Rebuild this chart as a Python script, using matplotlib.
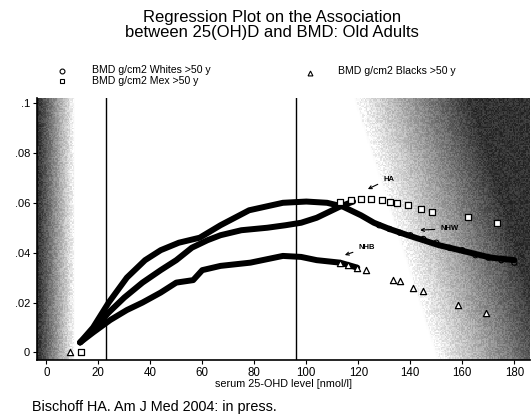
import numpy as np
import matplotlib
matplotlib.use("Agg")
import matplotlib.pyplot as plt

# --- data ---
whites_x = [13, 18, 24, 31, 38, 44, 51, 59, 67, 78, 91, 100, 108, 114, 121, 126, 132, 139, 145, 151, 159, 165, 171, 180]
whites_y = [0.004, 0.010, 0.020, 0.030, 0.037, 0.041, 0.044, 0.046, 0.051, 0.057, 0.060, 0.0605, 0.060, 0.0585, 0.055, 0.052, 0.0495, 0.047, 0.045, 0.043, 0.041, 0.0395, 0.038, 0.037]

mex_x = [13, 18, 24, 30, 37, 44, 50, 56, 62, 67, 75, 85, 92, 98, 104, 108, 113, 118]
mex_y = [0.004, 0.009, 0.016, 0.022, 0.028, 0.033, 0.037, 0.042, 0.045, 0.047, 0.049, 0.050, 0.051, 0.052, 0.054, 0.056, 0.0585, 0.0605]

blacks_x = [13, 18, 24.6, 31, 37, 44, 50, 56.5, 60, 67, 78.5, 91, 98, 104, 113, 119.6]
blacks_y = [0.004, 0.008, 0.013, 0.017, 0.020, 0.024, 0.028, 0.029, 0.033, 0.0347, 0.036, 0.0387, 0.0383, 0.037, 0.036, 0.034]

# scatter points (markers)
mex_pts_x = [13.5, 113, 117, 121, 125, 129, 132, 135, 139, 144, 148.5, 162, 173.5]
mex_pts_y = [0.0, 0.0605, 0.061, 0.0615, 0.0615, 0.061, 0.0605, 0.060, 0.059, 0.0577, 0.0565, 0.0544, 0.052]

blacks_pts_x = [9, 113, 116, 119.6, 123, 133.5, 136, 141, 145, 158.5, 169]
blacks_pts_y = [0.0, 0.036, 0.035, 0.034, 0.033, 0.029, 0.0285, 0.026, 0.0246, 0.019, 0.0157]

whites_pts_x = [128, 132, 136, 140, 145, 150, 155, 160, 165, 170, 175, 180]
whites_pts_y = [0.051, 0.0495, 0.048, 0.047, 0.0455, 0.044, 0.042, 0.041, 0.039, 0.038, 0.037, 0.036]

ref_lines = [23, 96]
xticks = [0, 20, 40, 60, 80, 100, 120, 140, 160, 180]
yticks = [0, 0.02, 0.04, 0.06, 0.08, 0.1]
ytick_labels = ["0", ".02", ".04", ".06", ".08", ".1"]

plt.rcParams['font.family'] = ['Liberation Sans', 'DejaVu Sans']

fig = plt.figure(figsize=(5.31, 4.19), dpi=100)
ax = fig.add_axes([0.070, 0.141, 0.928, 0.625])
xmin, xmax, ymin, ymax = -3.5, 186, -0.003, 0.102
ax.set_xlim(xmin, xmax)
ax.set_ylim(ymin, ymax)

# background halftone-like gradients
gx = np.linspace(xmin, xmax, 400)
gy = np.linspace(ymin, ymax, 200)
GX, GY = np.meshgrid(gx, gy)
left = np.clip((11 - GX) / 14.0, 0, 1) * 0.8
start = 150 - (GY - ymin) / (ymax - ymin) * 32
right = np.clip((GX - start) / 45.0, 0, 1) * 0.8
dark = np.maximum(left, right)
rng = np.random.default_rng(3)
noise = rng.random(dark.shape) * 0.15 - 0.075
img = np.clip(1 - dark + noise * (dark > 0.02), 0, 1)
ax.imshow(img, extent=[xmin, xmax, ymin, ymax], origin='lower', aspect='auto',
          cmap='gray', vmin=0, vmax=1, interpolation='nearest', zorder=0)

for xv in ref_lines:
    ax.axvline(xv, color='black', lw=1.0, zorder=1)

lw = 4.3
ax.plot(whites_x, whites_y, color='black', lw=lw, solid_capstyle='round', zorder=2)
ax.plot(mex_x, mex_y, color='black', lw=lw, solid_capstyle='round', zorder=2)
ax.plot(blacks_x, blacks_y, color='black', lw=lw, solid_capstyle='round', zorder=2)

ax.scatter(whites_pts_x, whites_pts_y, marker='o', s=14, facecolors='none', edgecolors='black', linewidths=0.8, zorder=3)
ax.scatter(mex_pts_x, mex_pts_y, marker='s', s=22, facecolors='white', edgecolors='black', linewidths=0.9, zorder=3)
ax.scatter(blacks_pts_x, blacks_pts_y, marker='^', s=20, facecolors='white', edgecolors='black', linewidths=0.9, zorder=3)

# annotations
kw = dict(fontsize=5.5, fontweight='bold', zorder=4)
ax.annotate("HA", xy=(122.7, 0.065), xytext=(129.5, 0.0695),
            arrowprops=dict(arrowstyle='->', lw=0.8, color='black'), va='center', **kw)
ax.annotate("NHW", xy=(142.7, 0.049), xytext=(151.5, 0.0496),
            arrowprops=dict(arrowstyle='->', lw=0.8, color='black'), va='center', **kw)
ax.annotate("NHB", xy=(113.8, 0.0387), xytext=(120, 0.042),
            arrowprops=dict(arrowstyle='->', lw=0.8, color='black'), va='center', **kw)

ax.set_xticks(xticks)
ax.set_xticklabels([str(v) for v in xticks], fontsize=8.3)
ax.set_yticks(yticks)
ax.set_yticklabels(ytick_labels, fontsize=8)
ax.tick_params(direction='out', length=3, width=0.8, pad=2)
ax.set_xlabel("serum 25-OHD level [nmol/l]", fontsize=7.8, labelpad=0)
for s in ['top', 'right']:
    ax.spines[s].set_visible(False)
ax.spines['left'].set_linewidth(1.2)
ax.spines['bottom'].set_linewidth(1.2)

fig.text(272/531, 1-25/419, "Regression Plot on the Association\nbetween 25(OH)D and BMD: Old Adults",
         ha='center', va='center', fontsize=12, linespacing=1.05)

# legend (manual)
fig.lines.append(plt.Line2D([62/531], [1-71/419], marker='o', ms=3.5, mfc='none', mec='black', mew=0.8, transform=fig.transFigure))
fig.lines.append(plt.Line2D([62/531], [1-81/419], marker='s', ms=3.5, mfc='none', mec='black', mew=0.8, transform=fig.transFigure))
fig.lines.append(plt.Line2D([310/531], [1-73/419], marker='^', ms=3.5, mfc='none', mec='black', mew=0.8, transform=fig.transFigure))
fig.text(92/531, 1-70/419, "BMD g/cm2 Whites >50 y", fontsize=7.6, va='center')
fig.text(92/531, 1-80.5/419, "BMD g/cm2 Mex >50 y", fontsize=7.6, va='center')
fig.text(338/531, 1-71/419, "BMD g/cm2 Blacks >50 y", fontsize=7.6, va='center')

fig.text(32/531, 1-407/419, "Bischoff HA. Am J Med 2004: in press.", fontsize=10.4, va='center')

fig.savefig("out.png", dpi=100)
